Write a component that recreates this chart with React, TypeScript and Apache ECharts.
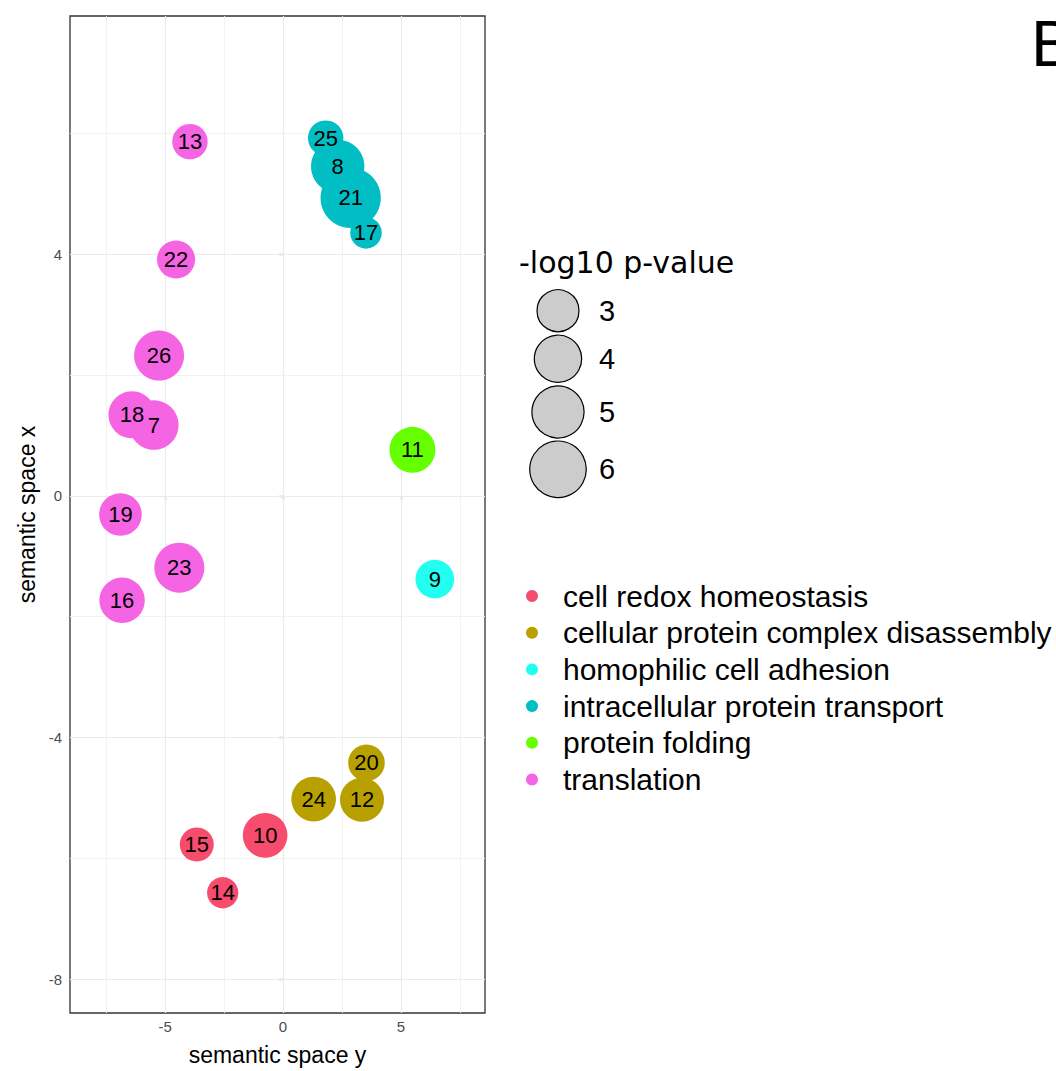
import React, { useEffect, useRef } from "react";
import * as echarts from "echarts";

// ---------- data ----------
const categories = [
  "cell redox homeostasis",
  "cellular protein complex disassembly",
  "homophilic cell adhesion",
  "intracellular protein transport",
  "protein folding",
  "translation",
];
const categoryColors = ["#F74C6E", "#B8A000", "#22FFF0", "#00BEC4", "#66FF00", "#F564E3"];

const termIds = [13, 25, 8, 21, 17, 22, 26, 18, 7, 11, 19, 23, 16, 9, 20, 24, 12, 10, 15, 14];
// horizontal: "semantic space y"
const plotX = [-3.95, 1.81, 2.32, 2.87, 3.52, -4.54, -5.26, -6.41, -5.48, 5.49, -6.9, -4.4, -6.83, 6.44, 3.54, 1.3, 3.35, -0.76, -3.66, -2.56];
// vertical: "semantic space x"
const plotY = [5.86, 5.92, 5.45, 4.93, 4.35, 3.91, 2.32, 1.34, 1.17, 0.76, -0.31, -1.19, -1.73, -1.38, -4.42, -5.02, -5.03, -5.62, -5.77, -6.57];
const logP = [1.93, 1.93, 5.27, 6.9, 1.4, 2.33, 4.53, 3.93, 4.41, 3.73, 3.11, 4.53, 3.62, 2.43, 2.12, 3.47, 3.36, 3.47, 1.73, 1.37];
const termCategory = [5, 3, 3, 3, 3, 5, 5, 5, 5, 4, 5, 5, 5, 2, 1, 1, 1, 0, 0, 0];

const sizeBreaks = [3, 4, 5, 6];
const xMajor = [-5, 0, 5];
const xMinor = [-7.5, -2.5, 2.5, 7.5];
const yMajor = [-8, -4, 0, 4];
const yMinor = [-6, -2, 2, 6];

// radius (px) for a -log10 p-value (area-linear like ggplot scale_size)
const radiusOf = (v: number) => Math.sqrt(Math.max(40, 441 + (v - 3) * 120));

const FONT = "'Liberation Sans', Arial, sans-serif";

export default function App() {
  const ref = useRef<HTMLDivElement>(null);

  useEffect(() => {
    document.body.style.margin = "0";
    if (!ref.current) return;
    const chart = echarts.init(ref.current, undefined, { renderer: "svg" });

    const pointSeries = categories.map((cat, ci) => ({
      type: "scatter",
      name: cat,
      z: 3,
      data: termIds
        .map((id, i) => ({ id, i }))
        .filter((d) => termCategory[d.i] === ci)
        .map((d) => ({
          name: String(d.id),
          value: [plotX[d.i], plotY[d.i], logP[d.i]],
        })),
      symbol: "circle",
      symbolSize: (val: number[]) => 2 * radiusOf(val[2]),
      itemStyle: { color: categoryColors[ci], opacity: 1 },
      label: {
        show: true,
        position: "inside",
        formatter: (p: any) => p.name,
        color: "#000",
        fontSize: 22,
        fontFamily: FONT,
      },
      emphasis: { disabled: true },
    }));

    const majorStyle = { color: "#EBEBEB", width: 1.2, type: "solid" };
    const minorStyle = { color: "#F0F0F0", width: 0.9, type: "solid" };
    const gridSeries = {
      type: "scatter",
      name: "grid",
      z: 1,
      data: [],
      silent: true,
      markLine: {
        z: 1,
        silent: true,
        symbol: ["none", "none"],
        label: { show: false },
        emphasis: { disabled: true },
        data: [
          ...xMinor.map((v) => ({ xAxis: v, lineStyle: minorStyle })),
          ...yMinor.map((v) => ({ yAxis: v, lineStyle: minorStyle })),
          ...xMajor.map((v) => ({ xAxis: v, lineStyle: majorStyle })),
          ...yMajor.map((v) => ({ yAxis: v, lineStyle: majorStyle })),
        ],
      },
    };

    const legendTop = 596;
    const legendStep = 36.7;
    const sizeCentersY = [310.7, 358.7, 412, 469.3];

    const graphic: any[] = [
      {
        type: "text",
        x: 1031,
        y: 43,
        style: { text: "B", fontSize: 65, fontFamily: FONT, fill: "#000", verticalAlign: "middle", align: "left" },
      },
      {
        type: "text",
        x: 519,
        y: 262,
        style: {
          text: "-log10 p-value",
          fontSize: 30,
          fontFamily: "'DejaVu Sans', sans-serif",
          fill: "#000",
          verticalAlign: "middle",
          align: "left",
        },
      },
      ...sizeBreaks.map((v, i) => ({
        type: "circle",
        shape: { cx: 558, cy: sizeCentersY[i], r: radiusOf(v) },
        style: { fill: "#CCCCCC", stroke: "#000", lineWidth: 1.2 },
      })),
      ...sizeBreaks.map((v, i) => ({
        type: "text",
        x: 599,
        y: sizeCentersY[i],
        style: { text: String(v), fontSize: 29, fontFamily: FONT, fill: "#000", verticalAlign: "middle", align: "left" },
      })),
      ...categories.map((c, i) => ({
        type: "circle",
        shape: { cx: 532, cy: legendTop + i * legendStep, r: 6 },
        style: { fill: categoryColors[i] },
      })),
      ...categories.map((c, i) => ({
        type: "text",
        x: 563,
        y: legendTop + i * legendStep,
        style: { text: c, fontSize: 30, fontFamily: FONT, fill: "#000", verticalAlign: "middle", align: "left" },
      })),
    ];

    chart.setOption({
      animation: false,
      backgroundColor: "#fff",
      grid: {
        left: 70,
        top: 16,
        width: 415,
        height: 997,
        show: true,
        borderColor: "#333333",
        borderWidth: 1.3,
        backgroundColor: "#fff",
        containLabel: false,
      },
      xAxis: {
        type: "value",
        min: -9.04,
        max: 8.57,
        name: "semantic space y",
        nameLocation: "middle",
        nameGap: 30,
        nameTextStyle: { fontSize: 23, fontFamily: FONT, color: "#000" },
        axisLine: { show: false },
        splitLine: { show: false },
        axisTick: { show: true, customValues: xMajor, length: 4, lineStyle: { color: "#333", width: 1.2 } },
        axisLabel: { customValues: xMajor, fontSize: 15, fontFamily: FONT, color: "#4D4D4D", margin: 6 },
      },
      yAxis: {
        type: "value",
        min: -8.56,
        max: 7.94,
        name: "semantic space x",
        nameLocation: "middle",
        nameRotate: 90,
        nameGap: 32,
        nameTextStyle: { fontSize: 23, fontFamily: FONT, color: "#000" },
        axisLine: { show: false },
        splitLine: { show: false },
        axisTick: { show: true, customValues: yMajor, length: 4, lineStyle: { color: "#333", width: 1.2 } },
        axisLabel: { customValues: yMajor, fontSize: 15, fontFamily: FONT, color: "#4D4D4D", margin: 8 },
      },
      series: [gridSeries, ...pointSeries],
      graphic,
    });

    return () => chart.dispose();
  }, []);

  return <div ref={ref} style={{ width: 1056, height: 1071 }} />;
}
